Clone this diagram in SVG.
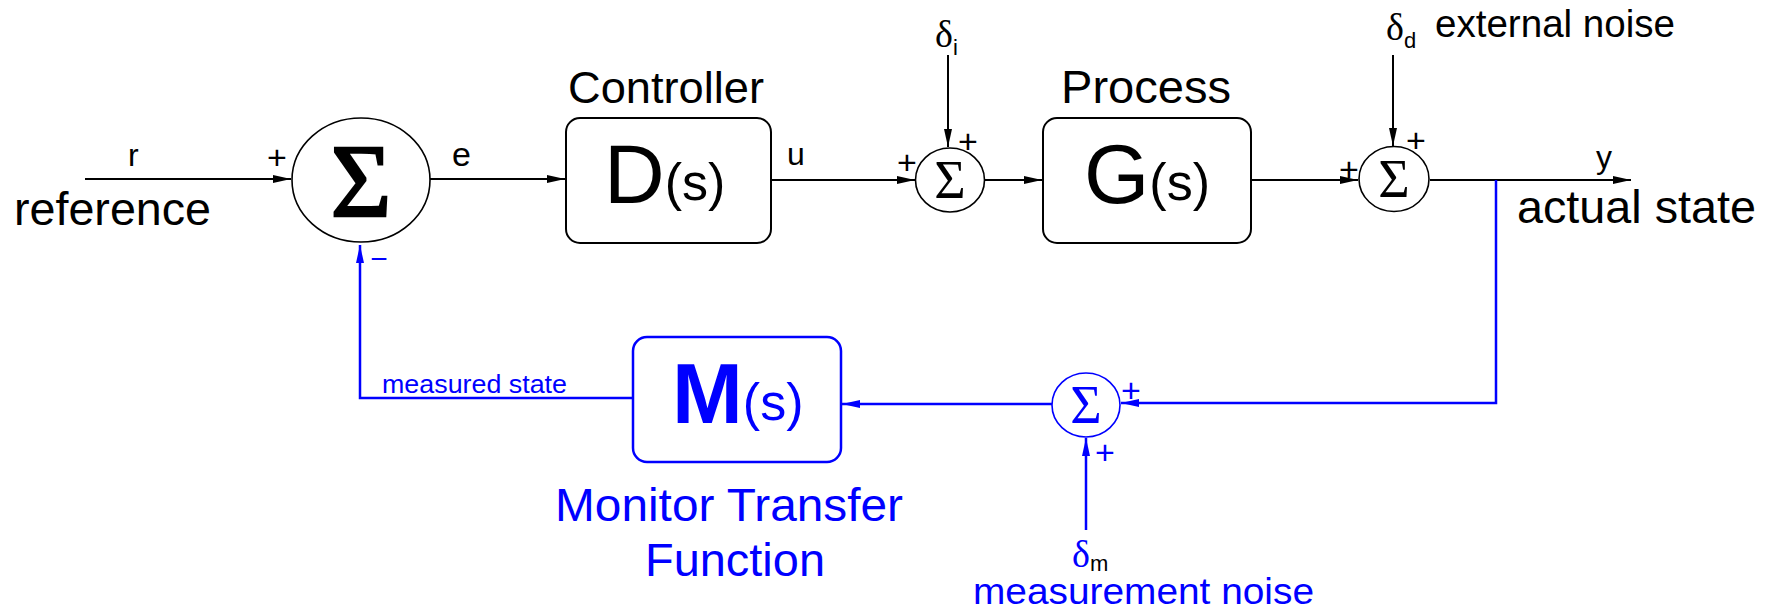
<svg xmlns="http://www.w3.org/2000/svg" width="1777" height="611" viewBox="0 0 1777 611">
<style>
.k{stroke:#000;stroke-width:2;fill:none}
.b{stroke:#0000ff;stroke-width:2.5;fill:none}
.c{stroke-width:1.6;fill:#fff}
.t{font-family:"Liberation Sans",Arial,sans-serif;fill:#000}
.s{font-family:"Liberation Serif","Times New Roman",serif;fill:#000}
.bt{fill:#0000ff}
.p{font-family:"Liberation Sans",Arial,sans-serif;font-size:34px;text-anchor:middle}
</style>
<defs>
<marker id="ak" markerUnits="userSpaceOnUse" markerWidth="20" markerHeight="10" refX="18" refY="5" orient="auto"><path d="M0,1 L18,5 L0,9 z" fill="#000"/></marker>
<marker id="ab" markerUnits="userSpaceOnUse" markerWidth="20" markerHeight="10" refX="18" refY="5" orient="auto"><path d="M0,1 L18,5 L0,9 z" fill="#0000ff"/></marker>
</defs>
<rect width="1777" height="611" fill="#fff"/>
<g id="connectors">
<path class="k" d="M85,179 H291" marker-end="url(#ak)"/>
<path class="k" d="M430,179 H565" marker-end="url(#ak)"/>
<path class="k" d="M771,180 H915" marker-end="url(#ak)"/>
<path class="k" d="M984,180 H1042" marker-end="url(#ak)"/>
<path class="k" d="M948,55 V147" marker-end="url(#ak)"/>
<path class="k" d="M1251,180 H1358" marker-end="url(#ak)"/>
<path class="k" d="M1393,55 V146" marker-end="url(#ak)"/>
<path class="k" d="M1430,180 H1631" marker-end="url(#ak)"/>
<path class="b" d="M1496,180 V403 H1121" marker-end="url(#ab)"/>
<path class="b" d="M1052,404 H842" marker-end="url(#ab)"/>
<path class="b" d="M1086,530 V438" marker-end="url(#ab)"/>
<path class="b" d="M633,398 H360 V245" marker-end="url(#ab)"/>
</g>
<g id="sum1">
<ellipse class="c" cx="361" cy="180" rx="69" ry="62" stroke="#000"/>
<text class="s" x="361" y="216" font-size="104" text-anchor="middle" stroke="#000" stroke-width="2.5">Σ</text>
<text class="p" x="277" y="169">+</text>
<text class="t bt" x="379" y="269" font-size="30" text-anchor="middle">−</text>
</g>
<g id="controller">
<text class="t" x="568" y="103" font-size="45" textLength="196" lengthAdjust="spacingAndGlyphs">Controller</text>
<rect class="k" x="566" y="118" width="205" height="125" rx="14"/>
<text class="t" x="604" y="203" font-size="84">D<tspan font-size="52" dy="-3">(s)</tspan></text>
</g>
<g id="sum2">
<ellipse class="c" cx="950" cy="180" rx="34.5" ry="32" stroke="#000"/>
<text class="s" x="950" y="198" font-size="54" text-anchor="middle">Σ</text>
<text class="p" x="907" y="174">+</text>
<text class="p" x="968" y="153">+</text>
</g>
<g id="process">
<text class="t" x="1061" y="103" font-size="46" textLength="170" lengthAdjust="spacingAndGlyphs">Process</text>
<rect class="k" x="1043" y="118" width="208" height="125" rx="14"/>
<text class="t" x="1084" y="203" font-size="84">G<tspan font-size="52" dy="-3">(s)</tspan></text>
</g>
<g id="sum3">
<ellipse class="c" cx="1394" cy="179" rx="35" ry="32.5" stroke="#000"/>
<text class="s" x="1394" y="197" font-size="54" text-anchor="middle">Σ</text>
<text class="p" x="1349" y="181">+</text>
<text class="p" x="1416" y="152">+</text>
</g>
<g id="monitor">
<rect class="b" x="633" y="337" width="208" height="125" rx="14"/>
<text class="t bt" x="672" y="423" font-size="85" font-weight="bold">M<tspan font-size="52" font-weight="normal" dy="-3">(s)</tspan></text>
<text class="t bt" x="555" y="521" font-size="47" textLength="348" lengthAdjust="spacingAndGlyphs">Monitor Transfer</text>
<text class="t bt" x="645" y="576" font-size="47" textLength="180" lengthAdjust="spacingAndGlyphs">Function</text>
</g>
<g id="sum4">
<ellipse class="c" cx="1086" cy="405" rx="34" ry="32" stroke="#0000ff"/>
<text class="s bt" x="1086" y="423" font-size="54" text-anchor="middle">Σ</text>
<text class="p bt" x="1131" y="402">+</text>
<text class="p bt" x="1105" y="464">+</text>
</g>
<g id="labels">
<text class="t" x="128" y="166" font-size="32">r</text>
<text class="t" x="14" y="225" font-size="46" textLength="197" lengthAdjust="spacingAndGlyphs">reference</text>
<text class="t" x="452" y="166" font-size="34">e</text>
<text class="t" x="787" y="165" font-size="32">u</text>
<text class="s" x="935" y="47" font-size="38">δ<tspan class="t" font-size="22" dy="8">i</tspan></text>
<text class="s" x="1386" y="40" font-size="38">δ<tspan class="t" font-size="22" dy="8">d</tspan></text>
<text class="t" x="1435" y="37" font-size="38" textLength="240" lengthAdjust="spacingAndGlyphs">external noise</text>
<text class="t" x="1596" y="168" font-size="32">y</text>
<text class="t" x="1517" y="223" font-size="46" textLength="239" lengthAdjust="spacingAndGlyphs">actual state</text>
<text class="t bt" x="382" y="393" font-size="26" textLength="185" lengthAdjust="spacingAndGlyphs">measured state</text>
<text class="s bt" x="1072" y="567" font-size="38">δ<tspan class="t" font-size="22" dy="4">m</tspan></text>
<text class="t bt" x="973" y="604" font-size="37" textLength="341" lengthAdjust="spacingAndGlyphs">measurement noise</text>
</g>
</svg>
